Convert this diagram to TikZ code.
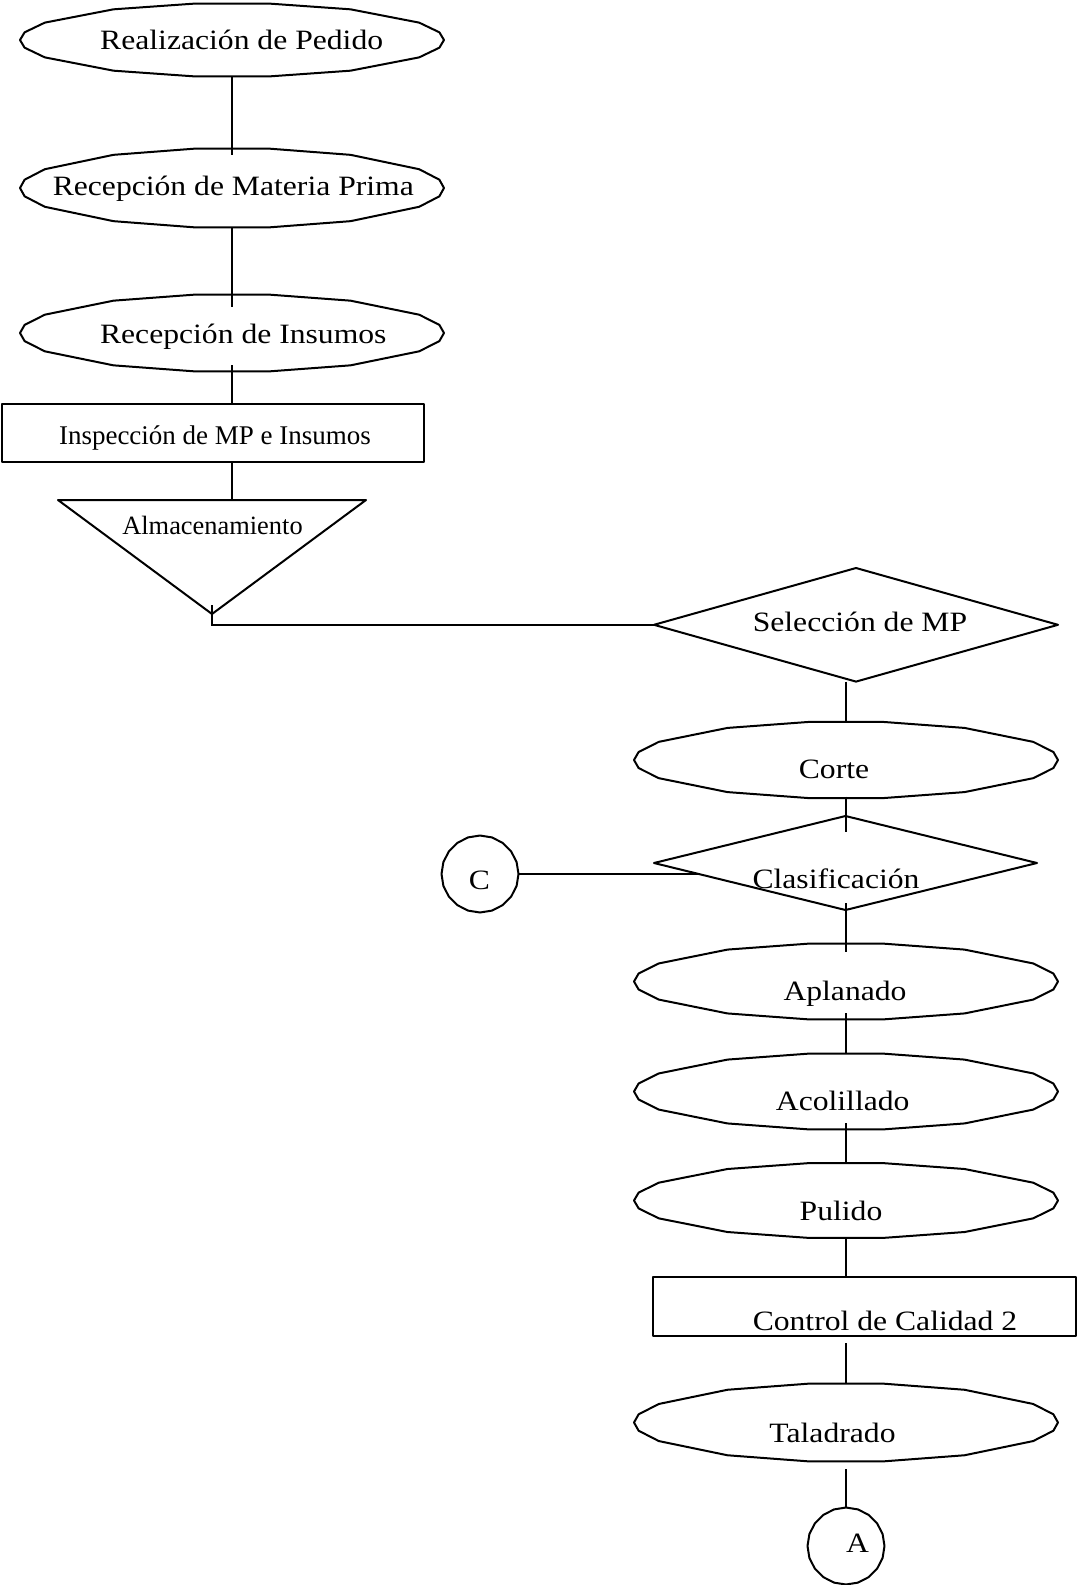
\documentclass[tikz,border=0pt]{standalone}
\usepackage{fontspec}
\setmainfont{Liberation Serif}
\newfontfamily\flowwide{Liberation Serif}[FakeStretch=1.13]
\usetikzlibrary{shapes.geometric,calc}

\tikzset{
  outline/.style={line width=1pt, line join=round},
  conn/.style={line width=1pt},
  holder/.style={inner sep=0pt, outer sep=0pt, draw=none},
  bigtxt/.style={inner sep=0pt, anchor=base, font=\flowwide\fontsize{14pt}{16pt}\selectfont},
  smalltxt/.style={inner sep=0pt, anchor=base, font=\fontsize{#1}{16pt}\selectfont},
  boxshape/.style={draw, outline, rectangle, inner sep=0pt, outer sep=0pt},
  decshape/.style={draw, outline, diamond, inner sep=0pt, outer sep=0pt},
}

% faceted ellipse: name, centre x, centre y, half height (half width is 212)
\newcommand\flowell[4]{%
  \node[holder, ellipse, minimum width=212pt, minimum height=#4pt] (#1) at (#2,#3) {};
  \draw[outline] ({#2+212},#3)
    \foreach \t in {12,28,56,80,100,124,152,168,180,192,208,236,260,280,304,332,348}
      { -- ({#2+212*cos(\t)},{#3+#4*sin(\t)}) } -- cycle;
}
% faceted connector circle: name, centre x, centre y
\newcommand\flowcirc[3]{%
  \node[holder, circle, minimum size=38.5pt] (#1) at (#2,#3) {};
  \draw[outline] plot[samples=20, domain=0:342] ({#2+38.5*cos(\x)}, {#3+38.5*sin(\x)}) -- cycle;
}

\begin{document}
\begin{tikzpicture}[x=0.5pt, y=-0.5pt]
\useasboundingbox (0,0) rectangle (1078,1585);

% ---- left column ----
\flowell{e1}{232}{40}{37}
\node[bigtxt] (e1-t) at (241.7,49.3) {Realización de Pedido};

\flowell{e2}{232}{188}{40}
\node[bigtxt] (e2-t) at (233.3,195.5) {Recepción de Materia Prima};

\flowell{e3}{232}{333}{39}
\node[bigtxt] (e3-t) at (243.3,343) {Recepción de Insumos};

\node[boxshape, minimum width=211pt, minimum height=29pt] (insp) at (213,433) {};
\node[smalltxt=13.5pt] (insp-t) at (215,444.7) {Inspección de MP e Insumos};

\coordinate (alm-nw) at (58,500);
\coordinate (alm-ne) at (366,500);
\coordinate (alm-tip) at (212,614);
\draw[outline] (alm-nw) -- (alm-ne) -- (alm-tip) -- cycle;
\node[smalltxt=13.2pt] (alm-t) at (212.5,534.7) {Almacenamiento};

% ---- right column ----
\node[decshape, minimum width=202pt, minimum height=56.8pt] (sel) at (856,624.8) {};
\node[bigtxt] (sel-t) at (860,631) {Selección de MP};

\flowell{corte}{846}{760}{38.7}
\node[bigtxt] (corte-t) at (834,778) {Corte};

\node[decshape, minimum width=191.5pt, minimum height=47pt] (cls) at (845.5,863) {};
\node[bigtxt] (cls-t) at (836,888) {Clasificación};

\flowcirc{c}{480}{874}
\node[bigtxt] (c-t) at (479.5,889) {C};

\flowell{apl}{846}{981.5}{38.5}
\node[bigtxt] (apl-t) at (845,1000) {Aplanado};

\flowell{aco}{846}{1091.5}{38.5}
\node[bigtxt] (aco-t) at (842.7,1110) {Acolillado};

\flowell{pul}{846}{1200.5}{38}
\node[bigtxt] (pul-t) at (841,1220) {Pulido};

\node[boxshape, minimum width=211.5pt, minimum height=29.5pt] (ctl) at (864.5,1306.5) {};
\node[bigtxt] (ctl-t) at (885,1330) {Control de Calidad 2};

\flowell{tal}{846}{1422.5}{39.5}
\node[bigtxt] (tal-t) at (832.5,1442) {Taladrado};

\flowcirc{a}{846}{1546}
\node[bigtxt] (a-t) at (857.5,1552) {A};

% ---- connectors ----
\draw[conn] (e1.south) -- ([yshift=-3.5pt]e2.north);
\draw[conn] (e2.south) -- ([yshift=-6.5pt]e3.north);
\draw[conn] ([yshift=3.5pt]e3.south) -- (e3.south |- insp.north);
\draw[conn] (e3.south |- insp.south) -- (e3.south |- alm-nw);
\draw[conn] ([yshift=4.5pt]alm-tip) |- (sel.west);
\draw[conn] (corte.north |- sel.south) -- (corte.north);
\coordinate (cls-top) at (corte.south |- cls.north);
\draw[conn] ([yshift=1pt]corte.south) -- ([yshift=-7.85pt]cls-top);
\coordinate (cls-edge) at ($(cls.west)!0.234!(cls.south)$);
\draw[conn] (c.east) -- (c.east -| cls-edge);
\coordinate (cls-bot) at (apl.north |- cls.south);
\draw[conn] ([yshift=3.5pt]cls-bot) -- ([yshift=-4.35pt]apl.north);
\draw[conn] ([yshift=3.5pt]apl.south) -- (aco.north);
\draw[conn] ([yshift=3.5pt]aco.south) -- (pul.north);
\draw[conn] (pul.south) -- (pul.south |- ctl.north);
\coordinate (ctl-bot) at (pul.south |- ctl.south);
\draw[conn] ([yshift=-3.5pt]ctl-bot) -- (tal.north);
\draw[conn] ([yshift=-3.5pt]tal.south) -- (a.north);
\end{tikzpicture}
\end{document}
